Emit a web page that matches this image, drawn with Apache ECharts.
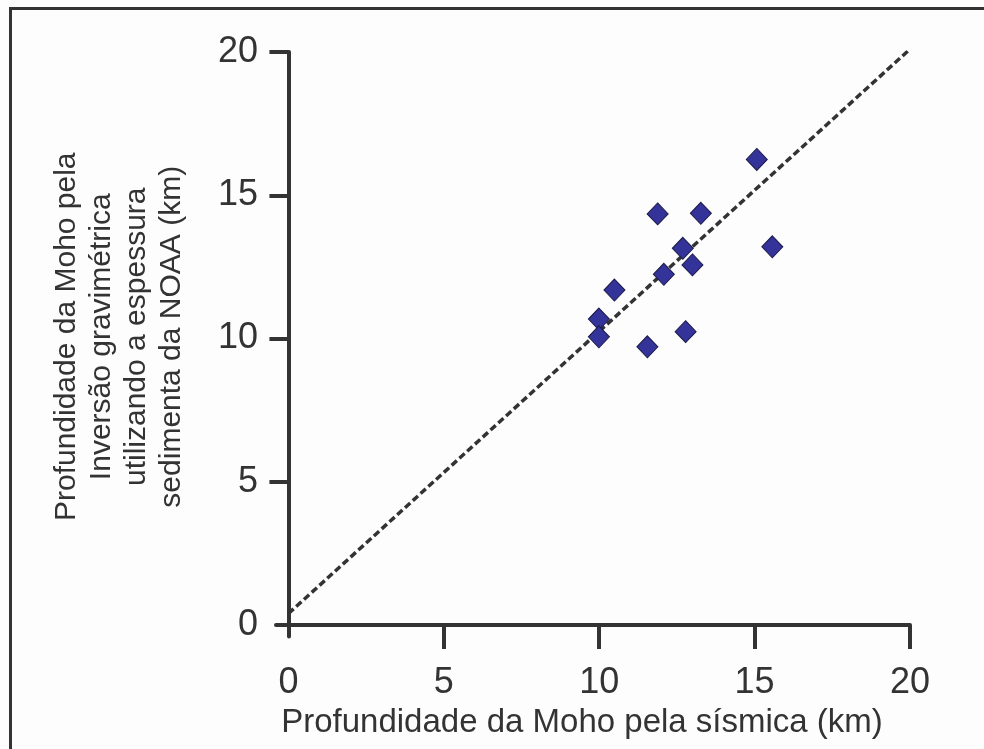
<!DOCTYPE html>
<html>
<head>
<meta charset="utf-8">
<script src="https://cdn.jsdelivr.net/npm/echarts@6/dist/echarts.min.js"></script>
<style>
  html, body { margin: 0; padding: 0; background: #fdfdfd; overflow: hidden; width: 984px; height: 749px; }
  #chart { width: 984px; height: 749px; position: absolute; left: 0; top: 0; }
  #frame {
    position: absolute; left: 9px; top: 7px; width: 975px; height: 742px;
    box-sizing: border-box;
    border-left: 3px solid #333; border-top: 3px solid #333;
    pointer-events: none;
  }
</style>
</head>
<body>
<div id="chart"></div>
<div id="frame"></div>
<script>
// Moho depth: seismic estimate (x) vs gravity inversion with NOAA sediment thickness (y), km
const seismicDepth = [15.07, 11.88, 13.27, 15.57, 12.69, 13.00, 12.08, 10.49, 9.99, 9.99, 12.78, 11.55];
const gravityDepth = [16.25, 14.35, 14.37, 13.20, 13.15, 12.57, 12.24, 11.69, 10.68, 10.06, 10.24, 9.71];

// Fitted trend line end points
const fitX = [0, 20];
const fitY = [0.4, 20.1];

// Tick values shown on both axes
const tickValues = [0, 5, 10, 15, 20];
const tickMarks = [5, 10, 15, 20];

const xTitle = 'Profundidade da Moho pela sísmica (km)';
const yTitle = 'Profundidade da Moho pela\nInversão gravimétrica\nutilizando a espessura\nsedimenta da NOAA (km)';

const points = seismicDepth.map((x, i) => [x, gravityDepth[i]]);
const fitLine = fitX.map((x, i) => [x, fitY[i]]);

const font = 'Liberation Sans, Arial, Helvetica, sans-serif';
const ink = '#333333';

const chart = echarts.init(document.getElementById('chart'), null, { renderer: 'canvas' });
chart.setOption({
  animation: false,
  backgroundColor: 'transparent',
  grid: { left: 276, right: 74, top: 52, bottom: 112.5 },
  xAxis: {
    type: 'value',
    min: -0.4,
    max: 20,
    axisLine: { onZero: true, lineStyle: { color: ink, width: 4 } },
    axisTick: { show: true, length: 24, customValues: tickMarks, lineStyle: { color: ink, width: 4 } },
    axisLabel: { customValues: tickValues, margin: 29, fontSize: 36, color: ink, fontFamily: font },
    splitLine: { show: false },
    name: xTitle,
    nameLocation: 'middle',
    nameGap: 64,
    nameTextStyle: { fontSize: 33, color: ink, fontFamily: font, padding: [0, 22, 0, 0] }
  },
  yAxis: {
    type: 'value',
    min: -0.4,
    max: 20,
    axisLine: { onZero: true, lineStyle: { color: ink, width: 4 } },
    axisTick: { show: true, length: 19, customValues: tickMarks, lineStyle: { color: ink, width: 4 } },
    axisLabel: { customValues: tickValues, margin: 18, fontSize: 36, color: ink, fontFamily: font },
    splitLine: { show: false },
    name: yTitle,
    nameLocation: 'middle',
    nameRotate: 90,
    nameGap: 87,
    nameTextStyle: { fontSize: 30, lineHeight: 35, color: ink, fontFamily: font, align: 'center', padding: [0, 0, 0, 15] }
  },
  series: [
    {
      type: 'line',
      data: fitLine,
      symbol: 'none',
      z: 2,
      lineStyle: { color: ink, width: 3.5, type: [7, 3.5] }
    },
    {
      type: 'scatter',
      data: points,
      symbol: 'diamond',
      symbolSize: [21, 22],
      z: 3,
      itemStyle: { color: '#333399', borderColor: '#1c1c4a', borderWidth: 1, opacity: 1 }
    }
  ]
});
</script>
</body>
</html>
